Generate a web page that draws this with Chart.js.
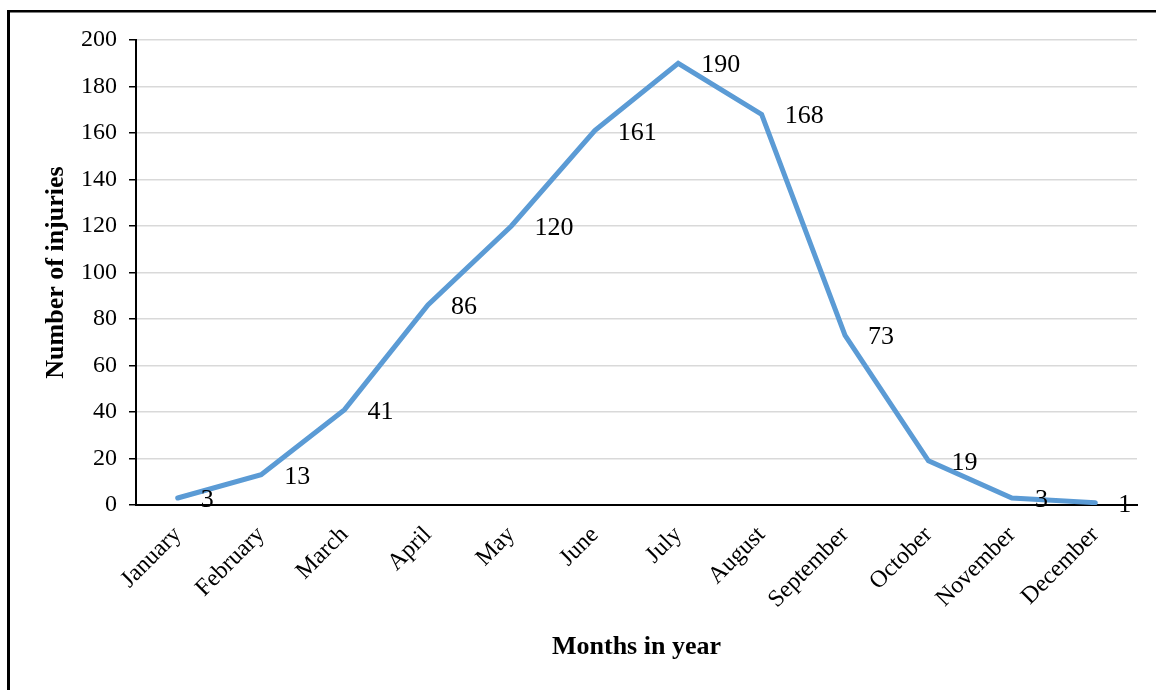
<!DOCTYPE html>
<html>
<head>
<meta charset="utf-8">
<script src="https://cdn.jsdelivr.net/npm/chart.js@4"></script>
<style>
  html, body { margin: 0; padding: 0; background: #fff; }
  #wrap { width: 1156px; height: 690px; position: relative; }
</style>
</head>
<body>
<div id="wrap"><canvas id="c" width="1156" height="690"></canvas></div>
<script>
const months = ["January","February","March","April","May","June","July","August","September","October","November","December"];
const injuries = [3, 13, 41, 86, 120, 161, 190, 168, 73, 19, 3, 1];
const yTitle = "Number of injuries";
const xTitle = "Months in year";
const yMin = 0, yMax = 200, yStep = 20;

const FONT = "'Liberation Serif', 'Times New Roman', serif";

const framePlugin = {
  id: 'frame',
  beforeDraw(chart) {
    const ctx = chart.ctx;
    ctx.save();
    ctx.fillStyle = '#fff';
    ctx.fillRect(0, 0, chart.width, chart.height);
    ctx.fillStyle = '#000';
    ctx.fillRect(7, 10, 3, chart.height - 10);
    ctx.fillRect(7, 10, chart.width - 7, 2.5);
    ctx.restore();
  }
};

const labelPlugin = {
  id: 'pointLabels',
  afterDatasetsDraw(chart) {
    const ctx = chart.ctx;
    const meta = chart.getDatasetMeta(0);
    const vals = chart.data.datasets[0].data;
    ctx.save();
    ctx.font = "26px " + FONT;
    ctx.fillStyle = '#000';
    ctx.textAlign = 'left';
    ctx.textBaseline = 'middle';
    meta.data.forEach((pt, i) => {
      ctx.fillText(String(vals[i]), pt.x + 23, pt.y + 2);
    });
    ctx.restore();
  }
};

new Chart(document.getElementById('c'), {
  type: 'line',
  data: {
    labels: months,
    datasets: [{
      data: injuries,
      borderColor: '#5B9BD5',
      backgroundColor: '#5B9BD5',
      borderWidth: 5,
      pointRadius: 0,
      tension: 0,
      fill: false,
      borderJoinStyle: 'miter',
      borderCapStyle: 'round'
    }]
  },
  options: {
    responsive: false,
    animation: false,
    devicePixelRatio: 1,
    layout: { padding: { left: 0, top: 40, right: 19, bottom: 0 } },
    plugins: {
      legend: { display: false },
      tooltip: { enabled: false },
      title: { display: false }
    },
    scales: {
      x: {
        offset: true,
        grid: { display: false, drawTicks: false },
        border: { display: true, color: '#000', width: 2 },
        ticks: {
          autoSkip: false,
          minRotation: 45,
          maxRotation: 45,
          padding: 16,
          color: '#000',
          font: { family: FONT, size: 24 }
        },
        title: {
          display: true,
          text: xTitle,
          color: '#000',
          font: { family: FONT, size: 26, weight: 'bold' },
          padding: { top: 4, bottom: 27 }
        },
        afterFit(scale) { scale.height = 185; }
      },
      y: {
        min: yMin,
        max: yMax,
        grid: {
          color: '#D9D9D9',
          lineWidth: 1.5,
          tickColor: '#000',
          tickLength: 7,
          tickWidth: 1.5
        },
        border: { display: true, color: '#000', width: 2 },
        ticks: {
          stepSize: yStep,
          padding: 12,
          color: '#000',
          font: { family: FONT, size: 24 }
        },
        title: {
          display: true,
          text: yTitle,
          color: '#000',
          font: { family: FONT, size: 26, weight: 'bold' },
          padding: { top: 41, bottom: 0 }
        },
        afterFit(scale) { scale.width = 136; }
      }
    }
  },
  plugins: [framePlugin, labelPlugin]
});
</script>
</body>
</html>
